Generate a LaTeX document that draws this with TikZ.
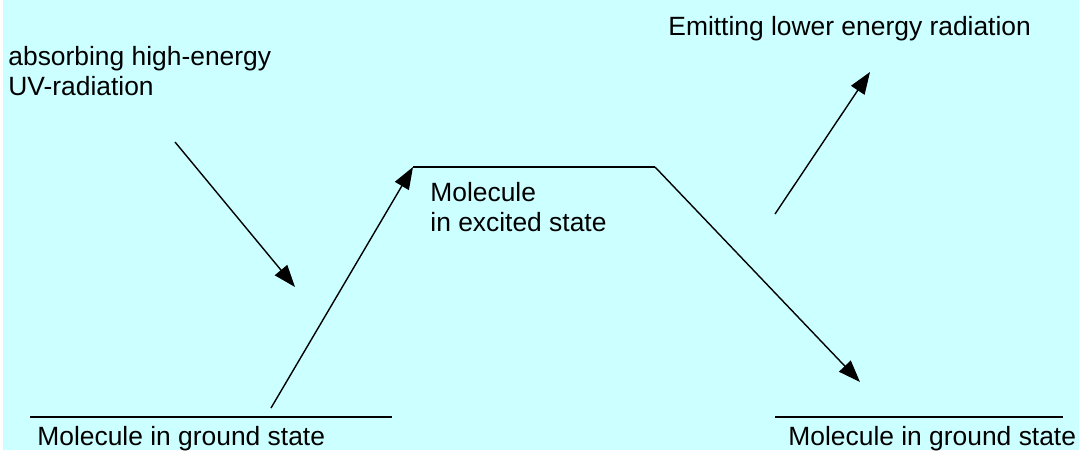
\documentclass[tikz,border=0pt]{standalone}
\usepackage{fontspec}
\setmainfont{Liberation Sans}
\usepackage{tikz}
\usetikzlibrary{
	positioning,
	arrows.meta
}
\definecolor{skycyan}{RGB}{204,255,255}

\begin{document}
\begin{tikzpicture}[
			x=0.5pt,y=-0.5pt,
			label/.style={
				inner sep=0pt,
				anchor=base west,
				align=left,
				font=\fontsize{13.2}{15}\selectfont
			},
			level/.style={line width=0.7pt},
			arrow/.style={-{Triangle[length=11pt,width=8pt]},line width=0.7pt}
			]
			
			\useasboundingbox (0,0) rectangle (1079,450);
			\fill[skycyan] (3,0) rectangle (1079,450);
			
			% energy levels
			\coordinate (gndL1) at (30,417);
			\coordinate (gndL2) at (392,417);
			\coordinate (gndR1) at (775,417);
			\coordinate (gndR2) at (1063,417);
			\coordinate (excL) at (413,167);
			\coordinate (excR) at (655,167);
			
			\draw[level] (gndL1)--(gndL2);
			\draw[level] (gndR1)--(gndR2);
			
			% arrows
			\coordinate (upfrom) at (271,408);
			\coordinate (absfrom) at (175,142);
			\coordinate (absto) at (295,287);
			\coordinate (downto) at (860,382);
			\coordinate (emitfrom) at (775,214);
			\coordinate (emitto) at (870,72);
			
			\draw[arrow] (upfrom)--(excL);
			\draw[level] (excL)--(excR);
			\draw[arrow] (excR)--(downto);
			\draw[arrow] (absfrom)--(absto);
			\draw[arrow] (emitfrom)--(emitto);
			
			% texts (base = last line)
			\node[label] (absorb) at (8,95)
			{absorbing high-energy\\UV-radiation};
			
			\node[label] (emit) at (668,35)
			{Emitting lower energy radiation};
			
			\node[label] (excited) at (430,231)
			{Molecule\\in excited state};
			
			\node[label] (groundL) at (37,445)
			{Molecule in ground state};
			
			\node[label] (groundR) at (788,445)
			{Molecule in ground state};
			
		\end{tikzpicture}
\end{document}
